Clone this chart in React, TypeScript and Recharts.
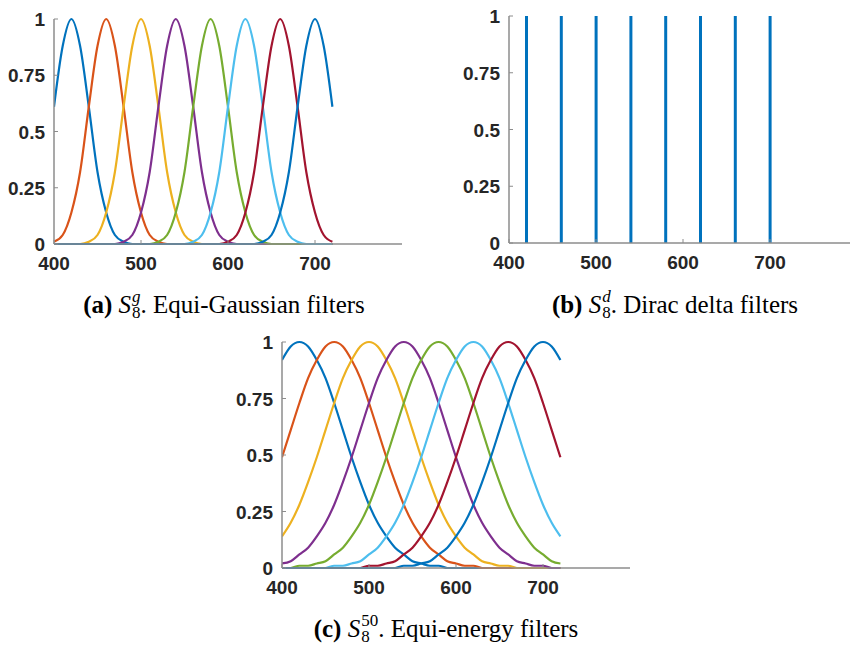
import { Bar, BarChart, Line, LineChart, XAxis, YAxis } from 'recharts';

// wavelengths (nm) sampled every 10 nm
const wavelengths = [
  400, 410, 420, 430, 440, 450, 460, 470, 480, 490, 500, 510, 520, 530, 540, 550, 560,
  570, 580, 590, 600, 610, 620, 630, 640, 650, 660, 670, 680, 690, 700, 710, 720,
];

// (a) equi-gaussian filters, peaks 420..700
const gauss420 = [.61, .88, 1, .88, .61, .32, .14, .04, .01, 0, 0, 0, 0, 0, 0, 0, 0, 0, 0, 0, 0, 0, 0, 0, 0, 0, 0, 0, 0, 0, 0, 0, 0];
const gauss460 = [.01, .04, .14, .32, .61, .88, 1, .88, .61, .32, .14, .04, .01, 0, 0, 0, 0, 0, 0, 0, 0, 0, 0, 0, 0, 0, 0, 0, 0, 0, 0, 0, 0];
const gauss500 = [0, 0, 0, 0, .01, .04, .14, .32, .61, .88, 1, .88, .61, .32, .14, .04, .01, 0, 0, 0, 0, 0, 0, 0, 0, 0, 0, 0, 0, 0, 0, 0, 0];
const gauss540 = [0, 0, 0, 0, 0, 0, 0, 0, .01, .04, .14, .32, .61, .88, 1, .88, .61, .32, .14, .04, .01, 0, 0, 0, 0, 0, 0, 0, 0, 0, 0, 0, 0];
const gauss580 = [0, 0, 0, 0, 0, 0, 0, 0, 0, 0, 0, 0, .01, .04, .14, .32, .61, .88, 1, .88, .61, .32, .14, .04, .01, 0, 0, 0, 0, 0, 0, 0, 0];
const gauss620 = [0, 0, 0, 0, 0, 0, 0, 0, 0, 0, 0, 0, 0, 0, 0, 0, .01, .04, .14, .32, .61, .88, 1, .88, .61, .32, .14, .04, .01, 0, 0, 0, 0];
const gauss660 = [0, 0, 0, 0, 0, 0, 0, 0, 0, 0, 0, 0, 0, 0, 0, 0, 0, 0, 0, 0, .01, .04, .14, .32, .61, .88, 1, .88, .61, .32, .14, .04, .01];
const gauss700 = [0, 0, 0, 0, 0, 0, 0, 0, 0, 0, 0, 0, 0, 0, 0, 0, 0, 0, 0, 0, 0, 0, 0, 0, .01, .04, .14, .32, .61, .88, 1, .88, .61];

// (b) dirac delta filters
const deltaPositions = [420, 460, 500, 540, 580, 620, 660, 700];
const deltaHeights = [1, 1, 1, 1, 1, 1, 1, 1];

// (c) equi-energy filters (wider)
const energy420 = [.92, .98, 1, .98, .92, .84, .73, .61, .49, .38, .28, .2, .14, .09, .06, .03, .02, .01, .01, 0, 0, 0, 0, 0, 0, 0, 0, 0, 0, 0, 0, 0, 0];
const energy460 = [.49, .61, .73, .84, .92, .98, 1, .98, .92, .84, .73, .61, .49, .38, .28, .2, .14, .09, .06, .03, .02, .01, .01, 0, 0, 0, 0, 0, 0, 0, 0, 0, 0];
const energy500 = [.14, .2, .28, .38, .49, .61, .73, .84, .92, .98, 1, .98, .92, .84, .73, .61, .49, .38, .28, .2, .14, .09, .06, .03, .02, .01, .01, 0, 0, 0, 0, 0, 0];
const energy540 = [.02, .03, .06, .09, .14, .2, .28, .38, .49, .61, .73, .84, .92, .98, 1, .98, .92, .84, .73, .61, .49, .38, .28, .2, .14, .09, .06, .03, .02, .01, .01, 0, 0];
const energy580 = [0, 0, .01, .01, .02, .03, .06, .09, .14, .2, .28, .38, .49, .61, .73, .84, .92, .98, 1, .98, .92, .84, .73, .61, .49, .38, .28, .2, .14, .09, .06, .03, .02];
const energy620 = [0, 0, 0, 0, 0, 0, .01, .01, .02, .03, .06, .09, .14, .2, .28, .38, .49, .61, .73, .84, .92, .98, 1, .98, .92, .84, .73, .61, .49, .38, .28, .2, .14];
const energy660 = [0, 0, 0, 0, 0, 0, 0, 0, 0, 0, .01, .01, .02, .03, .06, .09, .14, .2, .28, .38, .49, .61, .73, .84, .92, .98, 1, .98, .92, .84, .73, .61, .49];
const energy700 = [0, 0, 0, 0, 0, 0, 0, 0, 0, 0, 0, 0, 0, 0, .01, .01, .02, .03, .06, .09, .14, .2, .28, .38, .49, .61, .73, .84, .92, .98, 1, .98, .92];

const xTicks = [400, 500, 600, 700];
const yTicks = [0, 0.25, 0.5, 0.75, 1];

// matlab default line colours (8th wraps back to blue)
const colors = ['#0072BD', '#D95319', '#EDB120', '#7E2F8E', '#77AC30', '#4DBEEE', '#A2142F', '#0072BD'];

const gaussSeries = [gauss420, gauss460, gauss500, gauss540, gauss580, gauss620, gauss660, gauss700];
const energySeries = [energy420, energy460, energy500, energy540, energy580, energy620, energy660, energy700];

const AXIS = '#8c8c8c';
const TICK_TEXT = '#262626';
const tickFont = { fontFamily: '"Liberation Sans", Arial, sans-serif', fontWeight: 700, fontSize: 19 };

function toRows(series: number[][]) {
  return wavelengths.map((w, i) => {
    const row: Record<string, number> = { x: w };
    series.forEach((s, k) => (row['s' + k] = s[i]));
    return row;
  });
}

const gaussRows = toRows(gaussSeries);
const energyRows = toRows(energySeries);
const deltaRows = deltaPositions.map((x, i) => ({ x, y: deltaHeights[i] }));

// ticks point inward, like matlab
function XTick(props: any) {
  const { x, y, payload } = props;
  return (
    <g>
      <line x1={x} x2={x} y1={y} y2={y - 4} stroke={AXIS} strokeWidth={1} />
      <text x={x} y={y + 26} textAnchor="middle" fill={TICK_TEXT} {...tickFont}>
        {payload.value}
      </text>
    </g>
  );
}

function YTick(props: any) {
  const { x, y, payload } = props;
  return (
    <g>
      <line x1={x} x2={x + 4} y1={y} y2={y} stroke={AXIS} strokeWidth={1} />
      <text x={x - 9} y={y + 7} textAnchor="end" fill={TICK_TEXT} {...tickFont}>
        {String(payload.value)}
      </text>
    </g>
  );
}

const axisLine = { stroke: AXIS, strokeWidth: 1.5 };

// "(x) S_8^sup. text" — sup/sub stacked in an inline-block
function Caption({ label, sup, text, center, top }: { label: string; sup: string; text: string; center: number; top: number }) {
  return (
    <div
      style={{
        position: 'absolute',
        left: center - 200,
        top,
        width: 400,
        textAlign: 'center',
        fontFamily: '"Liberation Serif", "Times New Roman", serif',
        fontSize: 25,
        lineHeight: '25px',
        color: '#000',
        whiteSpace: 'nowrap',
      }}
    >
      <b>({label})</b> <i>S</i>
      <span style={{ display: 'inline-block', verticalAlign: -5, fontSize: 17, textAlign: 'left', paddingLeft: 1 }}>
        <span style={{ display: 'block', lineHeight: '19px', fontStyle: sup === '50' ? 'normal' : 'italic' }}>{sup}</span>
        <span style={{ display: 'block', lineHeight: '13px' }}>8</span>
      </span>
      . {text}
    </div>
  );
}

function CurvePanel({ rows, margin }: { rows: Record<string, number>[]; margin: any }) {
  return (
    <LineChart width={420} height={280} data={rows} margin={margin}>
      <XAxis
        dataKey="x"
        type="number"
        domain={[400, 800]}
        ticks={xTicks}
        axisLine={axisLine}
        tickLine={false}
        tickSize={0}
        tickMargin={0}
        height={30}
        tick={XTick}
        allowDataOverflow
      />
      <YAxis
        type="number"
        domain={[0, 1]}
        ticks={yTicks}
        axisLine={axisLine}
        tickLine={false}
        tickSize={0}
        tickMargin={0}
        width={50}
        tick={YTick}
      />
      {colors.map((c, k) => (
        <Line
          key={k}
          dataKey={'s' + k}
          type="monotone"
          stroke={c}
          strokeWidth={2.2}
          dot={false}
          isAnimationActive={false}
        />
      ))}
    </LineChart>
  );
}

export default function App() {
  return (
    <div
      style={{
        position: 'absolute',
        left: 0,
        top: 0,
        width: 850,
        height: 647,
        overflow: 'hidden',
        background: '#fff',
      }}
    >
      <div style={{ position: 'absolute', left: 0, top: 0 }}>
        <CurvePanel rows={gaussRows} margin={{ top: 19, right: 18, bottom: 6, left: 4 }} />
      </div>

      <div style={{ position: 'absolute', left: 455, top: 0 }}>
        <BarChart width={420} height={280} data={deltaRows} margin={{ top: 16, right: 18, bottom: 7, left: 4 }}>
          <XAxis
            dataKey="x"
            type="number"
            domain={[400, 800]}
            ticks={xTicks}
            axisLine={axisLine}
            tickLine={false}
            tickSize={0}
            tickMargin={0}
            height={30}
            tick={XTick}
          />
          <YAxis
            type="number"
            domain={[0, 1]}
            ticks={yTicks}
            axisLine={axisLine}
            tickLine={false}
            tickSize={0}
            tickMargin={0}
            width={50}
            tick={YTick}
          />
          <Bar dataKey="y" fill="#0072BD" barSize={3} isAnimationActive={false} />
        </BarChart>
      </div>

      <div style={{ position: 'absolute', left: 228, top: 323 }}>
        <CurvePanel rows={energyRows} margin={{ top: 19, right: 18, bottom: 5, left: 4 }} />
      </div>

      <Caption label="a" sup="g" text="Equi-Gaussian filters" center={224} top={287} />
      <Caption label="b" sup="d" text="Dirac delta filters" center={675} top={287} />
      <Caption label="c" sup="50" text="Equi-energy filters" center={446} top={611} />
    </div>
  );
}
